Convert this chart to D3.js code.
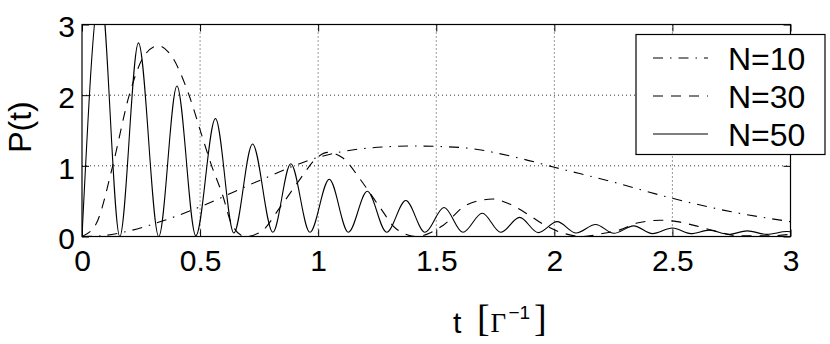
<!DOCTYPE html>
<meta charset="utf-8">
<style>

html, body {
  margin: 0;
  padding: 0;
  overflow: hidden;
  background: #fff;
}

svg {
  display: block;
  font-family: "Liberation Sans", Arial, Helvetica, sans-serif;
}

.grid line {
  stroke: #000;
  stroke-width: 0.8;
  stroke-dasharray: 1,3;
}

.curve {
  fill: none;
  stroke: #000;
  stroke-width: 1.1;
}

</style>
<svg width="830" height="344"></svg>
<script src="https://d3js.org/d3.v7.min.js"></script>
<script>

// N=10 (dash-dot)
var n10T = [0, 0.08, 0.16, 0.35, 0.5, 0.75, 1.0, 1.18, 1.4, 1.6, 1.85, 2.0, 2.25, 2.5, 2.75, 3.0];
var n10P = [0, 0.01, 0.05, 0.23, 0.42, 0.79, 1.12, 1.24, 1.28, 1.26, 1.11, 0.98, 0.77, 0.54, 0.35, 0.21];

// N=30 (dashed)
var n30T = [0, 0.06, 0.13, 0.2, 0.262, 0.323, 0.38, 0.45, 0.513, 0.549, 0.597, 0.633, 0.69,
            0.755, 0.84, 0.925, 0.99, 1.04, 1.105, 1.18, 1.26, 1.33, 1.415,
            1.53, 1.63, 1.74, 1.81, 1.89, 1.96, 2.04, 2.12,
            2.21, 2.275, 2.35, 2.45, 2.52, 2.6, 2.69, 2.78, 2.9, 3.0];
var n30P = [0, 0.18, 1.0, 2.0, 2.55, 2.70, 2.55, 2.03, 1.37, 1.0, 0.57, 0.18, 0,
            0.06, 0.42, 0.82, 1.1, 1.19, 1.11, 0.8, 0.42, 0.11, 0,
            0.16, 0.45, 0.53, 0.46, 0.31, 0.16, 0.045, 0,
            0.045, 0.09, 0.19, 0.23, 0.21, 0.15, 0.07, 0.01, 0.01, 0.03];

// N=50 (solid), peaks and troughs
var n50T = [0, 0.078, 0.16, 0.239, 0.325, 0.402, 0.482, 0.565, 0.643, 0.722, 0.808, 0.884,
            0.965, 1.047, 1.128, 1.208, 1.29, 1.371, 1.452, 1.533, 1.613, 1.695, 1.773, 1.853,
            1.932, 2.012, 2.092, 2.175, 2.252, 2.336, 2.416, 2.5, 2.578, 2.656, 2.738, 2.817,
            2.9, 2.985, 3.0];
var n50P = [0, 3.5, 0, 2.74, 0, 2.13, 0.01, 1.67, 0.05, 1.31, 0.06, 1.03,
            0.06, 0.81, 0.06, 0.64, 0.06, 0.51, 0.06, 0.41, 0.06, 0.33, 0.06, 0.27,
            0.055, 0.21, 0.05, 0.17, 0.045, 0.15, 0.04, 0.12, 0.04, 0.09, 0.03, 0.08,
            0.03, 0.07, 0.068];

var xTicks = [0, 0.5, 1, 1.5, 2, 2.5, 3];
var xTickLabels = ["0", "0.5", "1", "1.5", "2", "2.5", "3"];
var yTicks = [0, 1, 2, 3];
var yTickLabels = ["0", "1", "2", "3"];

var legendNames = ["N=10", "N=30", "N=50"];
var dashes = ["10,7,1.5,7", "10,8", null];

var svg = d3.select("svg");
var plotL = 82, plotR = 790.5, plotT = 24.5, plotB = 236.5;

var x = d3.scaleLinear().domain([0, 3]).range([plotL, plotR]);
var y = d3.scaleLinear().domain([0, 3]).range([plotB, plotT]);

svg.append("defs").append("clipPath")
    .attr("id", "plot")
  .append("rect")
    .attr("x", plotL).attr("y", plotT)
    .attr("width", plotR - plotL).attr("height", plotB - plotT);

// grid
var grid = svg.append("g").attr("class", "grid");
grid.selectAll(".gx")
    .data(xTicks.slice(1, -1))
  .enter().append("line")
    .attr("x1", x).attr("x2", x)
    .attr("y1", plotT).attr("y2", plotB);
grid.selectAll(".gy")
    .data(yTicks.slice(1, -1))
  .enter().append("line")
    .attr("x1", plotL).attr("x2", plotR)
    .attr("y1", y).attr("y2", y);

// curves
var line = d3.line()
    .x(function(d) { return x(d[0]); })
    .y(function(d) { return y(d[1]); })
    .curve(d3.curveMonotoneX);

var series = [d3.zip(n10T, n10P), d3.zip(n30T, n30P), d3.zip(n50T, n50P)];

svg.append("g")
    .attr("clip-path", "url(#plot)")
  .selectAll("path")
    .data(series)
  .enter().append("path")
    .attr("class", "curve")
    .attr("stroke-dasharray", function(d, i) { return dashes[i]; })
    .attr("d", line);

// axes, MATLAB style: ticks inward on all four sides
var tick = 7;
function axis(gen, tr) {
  var g = svg.append("g").attr("transform", tr).call(gen);
  g.select(".domain").remove();
  g.selectAll("line").attr("stroke", "#000").attr("stroke-width", 1);
  return g;
}

var xb = axis(d3.axisBottom(x).tickValues(xTicks).tickSize(-tick).tickPadding(13)
    .tickFormat(function(d, i) { return xTickLabels[i]; }), "translate(0," + plotB + ")");
xb.selectAll("text").attr("font-size", 30).attr("fill", "#000");

axis(d3.axisTop(x).tickValues(xTicks).tickSize(-tick).tickFormat(""), "translate(0," + plotT + ")");

var yl = axis(d3.axisLeft(y).tickValues(yTicks).tickSize(-tick).tickPadding(7)
    .tickFormat(function(d, i) { return yTickLabels[i]; }), "translate(" + plotL + ",0)");
yl.selectAll("text").attr("font-size", 30).attr("fill", "#000")
    .attr("dy", "0.41em");

axis(d3.axisRight(y).tickValues(yTicks).tickSize(-tick).tickFormat(""), "translate(" + plotR + ",0)");

svg.selectAll(".tick text").attr("font-family", "Liberation Sans, Arial, sans-serif");

svg.append("rect")
    .attr("x", plotL).attr("y", plotT)
    .attr("width", plotR - plotL).attr("height", plotB - plotT)
    .attr("fill", "none").attr("stroke", "#000").attr("stroke-width", 1.2);

// axis labels
svg.append("text")
    .attr("transform", "translate(31,127) rotate(-90)")
    .attr("text-anchor", "middle")
    .attr("font-size", 32)
    .text("P(t)");

var serif = "Liberation Serif, Times New Roman, serif";
var xl = svg.append("g");
xl.append("text").attr("x", 453).attr("y", 333).attr("font-size", 30).text("t");
xl.append("text").attr("x", 477).attr("y", 331).attr("font-size", 38)
    .attr("font-family", serif).text("[");
xl.append("text").attr("x", 490.5).attr("y", 332).attr("font-size", 27)
    .attr("font-family", serif).text("Γ");
xl.append("text").attr("x", 508.5).attr("y", 319).attr("font-size", 19).text("−1");
xl.append("text").attr("x", 534).attr("y", 331).attr("font-size", 38)
    .attr("font-family", serif).text("]");

// legend
var lg = svg.append("g");
lg.append("rect")
    .attr("x", 636).attr("y", 34.5)
    .attr("width", 189).attr("height", 120)
    .attr("fill", "#fff").attr("stroke", "#000").attr("stroke-width", 1.2);

var ly = d3.scalePoint().domain(legendNames).range([58, 134]);

var item = lg.selectAll(".item")
    .data(legendNames)
  .enter().append("g")
    .attr("transform", function(d) { return "translate(0," + ly(d) + ")"; });

item.append("line")
    .attr("x1", 653).attr("x2", 708)
    .attr("stroke", "#000").attr("stroke-width", 1.1)
    .attr("stroke-dasharray", function(d, i) { return dashes[i]; });

item.append("text")
    .attr("x", 728)
    .attr("y", 11.5)
    .attr("font-size", 32)
    .text(function(d) { return d; });

</script>
